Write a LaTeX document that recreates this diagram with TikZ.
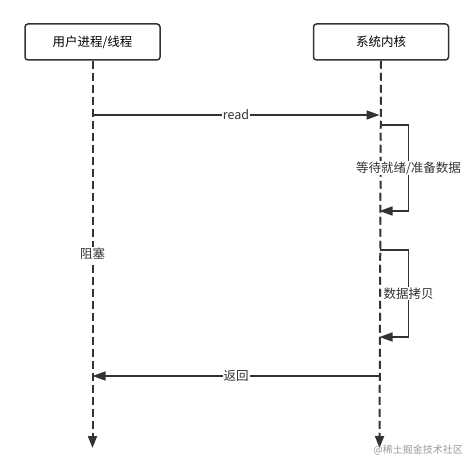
\documentclass[tikz,border=0pt]{standalone}
\usepackage{fontspec}
\setmainfont{Noto Sans CJK SC}
\usepackage{tikz}
\usetikzlibrary{positioning,arrows.meta,calc}
\usepackage{xcolor}
\definecolor{linegray}{HTML}{333333}
\definecolor{markgray}{HTML}{9A9A9A}

\tikzset{
  lifebox/.style={rectangle,rounded corners=3pt,draw=linegray,line width=1.5pt,
    minimum width=135pt,minimum height=36pt,font=\fontsize{12.5}{14}\selectfont},
  lifeline/.style={draw=linegray,line width=2pt,dash pattern=on 8pt off 4pt,
    -{Triangle[length=12pt,width=9pt]}},
  msg/.style={draw=linegray,line width=1.6pt,-{Triangle[length=13pt,width=9pt]}},
  msglabel/.style={fill=white,inner sep=1pt,text=linegray,font=\fontsize{12.5}{14}\selectfont}
}

\begin{document}
\begin{tikzpicture}[x=1pt,y=-1pt]
    \useasboundingbox (0,0) rectangle (476,468);

    \node (user) [lifebox] at (92.5,42) { 用户进程/线程 };
    \node (kernel) [lifebox,right=152pt of user] { 系统内核 };

    \coordinate (userend) at (92.5,448);
    \coordinate (kernelend) at (379.5,448);
    % Lifelines
    \draw[lifeline] (user.south) to (userend);
    \draw[lifeline] (kernel.south) to (kernelend);

    % read
    \coordinate (readfrom) at (92.5,115);
    \coordinate (readto) at (379.5,115);
    \draw[msg] (readfrom) to node[msglabel] {read} (readto);

    % waiting for data
    \coordinate (waitfrom) at (379.5,125);
    \coordinate (waitto) at (379.5,211);
    \draw[msg] (waitfrom) -| ($(waitto)+(29,0)$) node[msglabel,pos=0.75] {等待就绪/准备数据} -- (waitto);

    % copying data
    \coordinate (copyfrom) at (379.5,250);
    \coordinate (copyto) at (379.5,337);
    \draw[msg] (copyfrom) -| ($(copyto)+(29,0)$) node[msglabel,pos=0.75] {数据拷贝} -- (copyto);

    \node (block) [msglabel] at (92.5,254) {阻塞};

    % return
    \coordinate (retfrom) at (379.5,376);
    \coordinate (retto) at (92.5,376);
    \draw[msg] (retfrom) to node[msglabel] {返回} (retto);

    \node (mark) [text=markgray,font=\fontsize{10}{12}\selectfont,anchor=east,inner sep=0pt] at (463,450) {@稀土掘金技术社区};
\end{tikzpicture}
\end{document}
